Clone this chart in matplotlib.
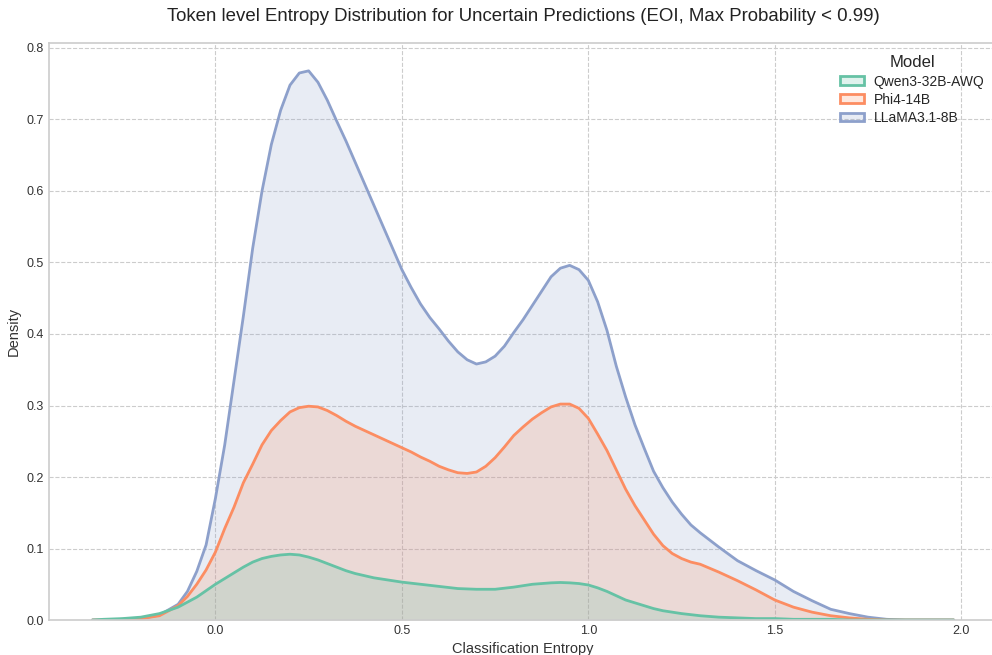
import matplotlib
matplotlib.use("Agg")
import matplotlib.pyplot as plt
import matplotlib.patches as mpatches
import numpy as np

# entropy grid, density per model
entropy = [-0.33, -0.30, -0.25, -0.20, -0.15, -0.10,
           -0.075, -0.05, -0.025, 0.00, 0.025, 0.05, 0.075, 0.10, 0.125, 0.15,
           0.175, 0.20, 0.225, 0.25, 0.275, 0.30, 0.325, 0.35, 0.375, 0.40,
           0.425, 0.45, 0.475, 0.50, 0.525, 0.55, 0.575, 0.60, 0.625, 0.65,
           0.675, 0.70, 0.725, 0.75, 0.775, 0.80, 0.825, 0.85, 0.875, 0.90,
           0.925, 0.95, 0.975, 1.00, 1.025, 1.05, 1.075, 1.10, 1.125, 1.15,
           1.175, 1.20, 1.225, 1.25, 1.275, 1.30,
           1.35, 1.40, 1.45, 1.50, 1.55, 1.60, 1.65, 1.70, 1.75, 1.80,
           1.85, 1.90, 1.98]

llama = [0.000, 0.000, 0.001, 0.002, 0.007, 0.022,
         0.040, 0.068, 0.105, 0.170, 0.245, 0.335, 0.425, 0.520, 0.600, 0.665,
         0.713, 0.748, 0.765, 0.768, 0.752, 0.727, 0.698, 0.670, 0.640, 0.610,
         0.580, 0.550, 0.520, 0.490, 0.465, 0.442, 0.423, 0.407, 0.390, 0.375,
         0.364, 0.358, 0.361, 0.369, 0.383, 0.402, 0.420, 0.440, 0.460, 0.480,
         0.492, 0.496, 0.490, 0.475, 0.445, 0.405, 0.355, 0.312, 0.273, 0.240,
         0.208, 0.185, 0.165, 0.148, 0.133, 0.122,
         0.102, 0.083, 0.069, 0.056, 0.040, 0.027, 0.015, 0.009, 0.004, 0.001,
         0.000, 0.000, 0.000]

phi = [0.000, 0.000, 0.001, 0.002, 0.006, 0.020,
       0.033, 0.050, 0.070, 0.095, 0.128, 0.158, 0.192, 0.218, 0.245, 0.265,
       0.279, 0.291, 0.297, 0.299, 0.298, 0.293, 0.286, 0.278, 0.271, 0.265,
       0.259, 0.253, 0.247, 0.241, 0.235, 0.228, 0.222, 0.215, 0.210, 0.206,
       0.205, 0.207, 0.215, 0.227, 0.242, 0.258, 0.270, 0.281, 0.290, 0.298,
       0.302, 0.302, 0.296, 0.282, 0.260, 0.237, 0.210, 0.183, 0.160, 0.140,
       0.120, 0.104, 0.093, 0.086, 0.081, 0.078,
       0.067, 0.055, 0.042, 0.028, 0.018, 0.011, 0.006, 0.003, 0.001, 0.000,
       0.000, 0.000, 0.000]

qwen = [0.000, 0.001, 0.002, 0.004, 0.009, 0.018,
        0.025, 0.032, 0.041, 0.050, 0.058, 0.066, 0.074, 0.081, 0.086, 0.089,
        0.091, 0.092, 0.091, 0.088, 0.084, 0.079, 0.074, 0.069, 0.065, 0.062,
        0.059, 0.057, 0.055, 0.053, 0.0515, 0.050, 0.0485, 0.047, 0.0455, 0.044,
        0.0435, 0.043, 0.043, 0.043, 0.0445, 0.046, 0.048, 0.050, 0.051, 0.052,
        0.0525, 0.052, 0.051, 0.049, 0.045, 0.040, 0.034, 0.028, 0.024, 0.020,
        0.016, 0.013, 0.011, 0.009, 0.0075, 0.006,
        0.004, 0.003, 0.002, 0.002, 0.001, 0.001, 0.001, 0.000, 0.000, 0.000,
        0.000, 0.000, 0.000]

models = ["Qwen3-32B-AWQ", "Phi4-14B", "LLaMA3.1-8B"]
colors = ["#66c2a5", "#fc8d62", "#8da0cb"]

plt.style.use("seaborn-v0_8-whitegrid")
plt.rcParams["font.family"] = ["Liberation Sans", "DejaVu Sans"]

fig = plt.figure(figsize=(9.92, 6.55), dpi=100)
ax = fig.add_axes([0.0491, 0.0534, 0.956, 0.881])

series = [qwen, phi, llama]
# draw last model first so the first one ends up on top
for name, col, dens in reversed(list(zip(models, colors, series))):
    ax.fill_between(entropy, dens, 0, color=col, alpha=0.2, linewidth=0)
    ax.plot(entropy, dens, color=col, linewidth=2, solid_joinstyle="round")

ax.set_xlim(-0.447, 2.096)
ax.set_ylim(0, 0.807)
ax.set_xticks([0.0, 0.5, 1.0, 1.5, 2.0])
ax.set_yticks(np.arange(0, 0.81, 0.1))
ax.grid(True, linestyle="--", color="#cccccc", linewidth=0.8)
ax.tick_params(labelsize=9, colors="#333333")
for s in ax.spines.values():
    s.set_color("#cccccc")
    s.set_linewidth(1.2)
ax.spines["right"].set_visible(False)

ax.set_xlabel("Classification Entropy", fontsize=10.5, color="#333333")
ax.set_ylabel("Density", fontsize=10.5, color="#333333")
ax.set_title("Token level Entropy Distribution for Uncertain Predictions (EOI, Max Probability < 0.99)",
             fontsize=13.4, pad=16, color="#222222")

handles = [mpatches.Patch(facecolor=matplotlib.colors.to_rgba(c, 0.2), edgecolor=c, linewidth=2)
           for c in colors]
leg = ax.legend(handles, models, title="Model", loc="upper right", fontsize=10,
                title_fontsize=12, frameon=False, bbox_to_anchor=(1.0, 1.0),
                labelspacing=0.3, handlelength=1.7, handleheight=0.6, handletextpad=0.7)

fig.savefig("out.png", dpi=100)
